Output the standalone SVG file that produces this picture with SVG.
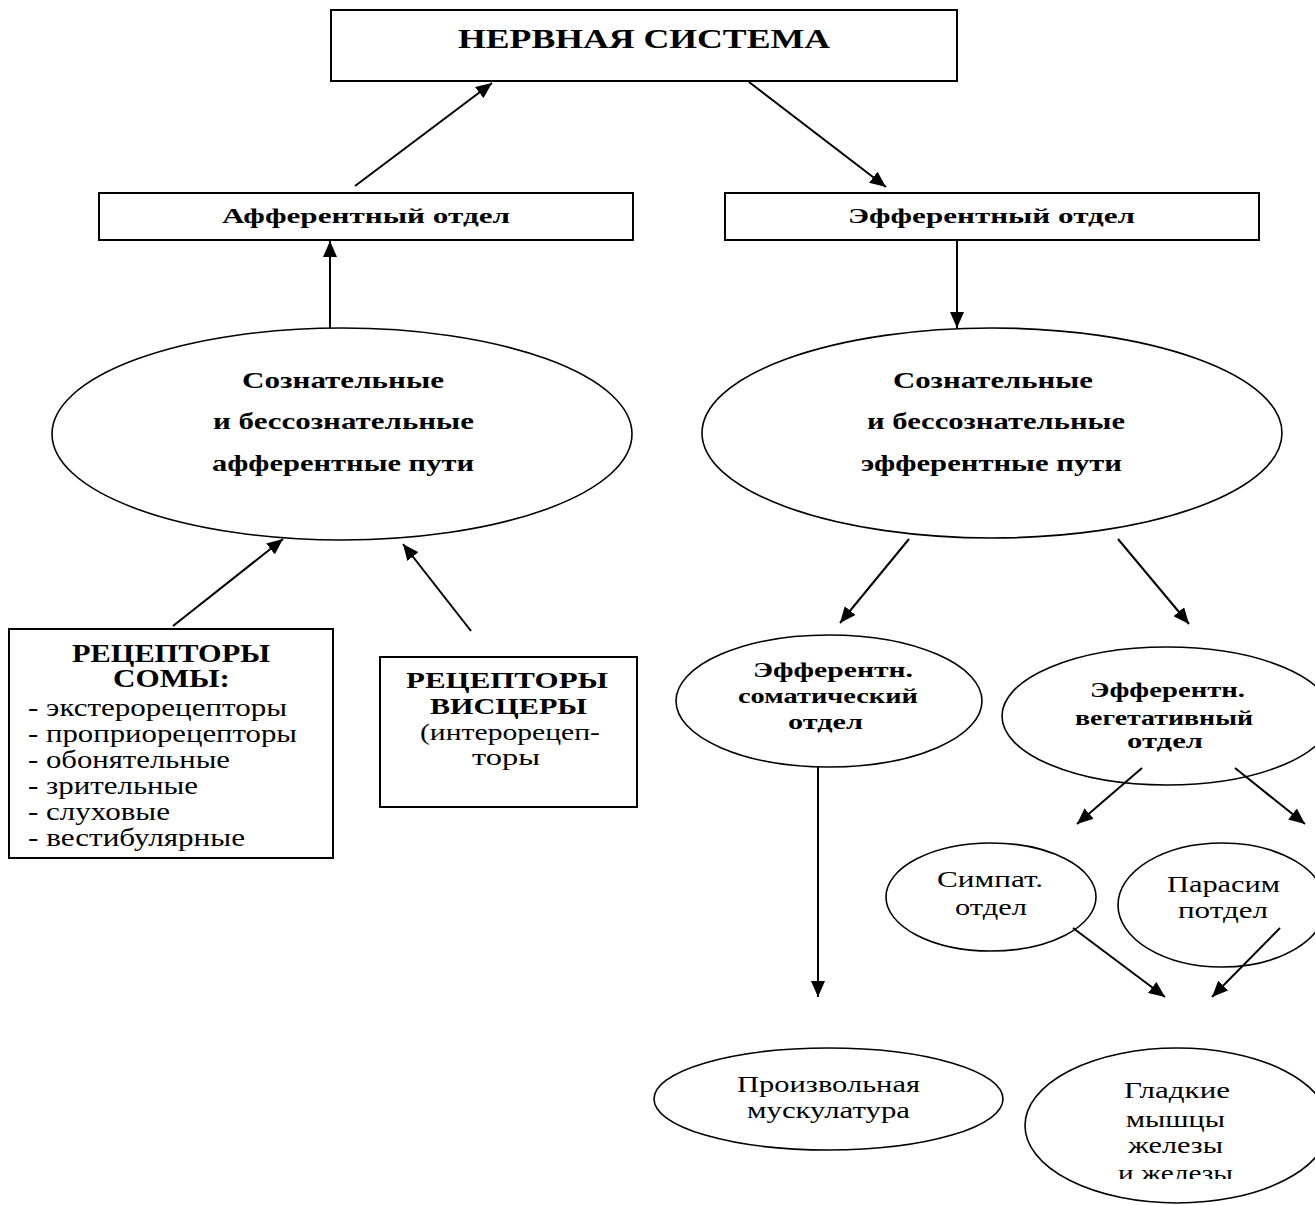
<svg xmlns="http://www.w3.org/2000/svg" width="1315" height="1205" viewBox="0 0 1315 1205">
<style>
.box{fill:#fff;stroke:#000;stroke-width:2}
.el{fill:#fff;stroke:#000;stroke-width:1.6}
.t{font-family:"Liberation Serif","Times New Roman",serif;fill:#000}
.b{font-weight:bold}
.con line{stroke:#000;stroke-width:2}
</style>
<defs>
<marker id="ah" markerUnits="userSpaceOnUse" markerWidth="17" markerHeight="14" refX="16" refY="7" orient="auto">
<path d="M0,0 L16,7 L0,14 z" fill="#000"/>
</marker>
<clipPath id="clipG"><rect x="0" y="0" width="1315" height="1179"/></clipPath>
</defs>
<rect width="1315" height="1205" fill="#fff"/>

<g id="n-nervous">
<rect class="box" x="331" y="10" width="626" height="71"/>
<text class="t b" x="458" y="48" font-size="28" textLength="372" lengthAdjust="spacingAndGlyphs">НЕРВНАЯ СИСТЕМА</text>
</g>
<g id="n-afferent">
<rect class="box" x="99" y="193" width="534" height="47"/>
<text class="t b" x="222" y="223" font-size="20" textLength="288" lengthAdjust="spacingAndGlyphs">Афферентный отдел</text>
</g>
<g id="n-efferent">
<rect class="box" x="725" y="193" width="534" height="47"/>
<text class="t b" x="848" y="223" font-size="20" textLength="287" lengthAdjust="spacingAndGlyphs">Эфферентный отдел</text>
</g>
<g id="n-aff-paths">
<ellipse class="el" cx="342" cy="434" rx="290" ry="106"/>
<text class="t b" x="242" y="388" font-size="23" textLength="202" lengthAdjust="spacingAndGlyphs">Сознательные</text>
<text class="t b" x="213" y="429" font-size="23" textLength="261" lengthAdjust="spacingAndGlyphs">и бессознательные</text>
<text class="t b" x="212" y="471" font-size="23" textLength="262" lengthAdjust="spacingAndGlyphs">афферентные пути</text>
</g>
<g id="n-eff-paths">
<ellipse class="el" cx="992" cy="433" rx="290" ry="105"/>
<text class="t b" x="893" y="388" font-size="23" textLength="200" lengthAdjust="spacingAndGlyphs">Сознательные</text>
<text class="t b" x="867" y="429" font-size="23" textLength="258" lengthAdjust="spacingAndGlyphs">и бессознательные</text>
<text class="t b" x="861" y="471" font-size="23" textLength="261" lengthAdjust="spacingAndGlyphs">эфферентные пути</text>
</g>
<g id="n-soma-rec">
<rect class="box" x="9" y="629" width="324" height="229"/>
<text class="t b" x="72" y="662" font-size="25" textLength="198" lengthAdjust="spacingAndGlyphs">РЕЦЕПТОРЫ</text>
<text class="t b" x="113" y="687" font-size="25" textLength="117" lengthAdjust="spacingAndGlyphs">СОМЫ:</text>
<text class="t" x="28" y="716" font-size="25" textLength="259" lengthAdjust="spacingAndGlyphs">- экстерорецепторы</text>
<text class="t" x="28" y="742" font-size="25" textLength="269" lengthAdjust="spacingAndGlyphs">- проприорецепторы</text>
<text class="t" x="28" y="768" font-size="25" textLength="202" lengthAdjust="spacingAndGlyphs">- обонятельные</text>
<text class="t" x="28" y="794" font-size="25" textLength="170" lengthAdjust="spacingAndGlyphs">- зрительные</text>
<text class="t" x="28" y="820" font-size="25" textLength="142" lengthAdjust="spacingAndGlyphs">- слуховые</text>
<text class="t" x="28" y="846" font-size="25" textLength="217" lengthAdjust="spacingAndGlyphs">- вестибулярные</text>
</g>
<g id="n-visc-rec">
<rect class="box" x="380" y="657" width="257" height="150"/>
<text class="t b" x="406" y="688" font-size="24" textLength="202" lengthAdjust="spacingAndGlyphs">РЕЦЕПТОРЫ</text>
<text class="t b" x="430" y="714" font-size="24" textLength="157" lengthAdjust="spacingAndGlyphs">ВИСЦЕРЫ</text>
<text class="t" x="420" y="740" font-size="24" textLength="180" lengthAdjust="spacingAndGlyphs">(интерорецеп-</text>
<text class="t" x="472" y="765" font-size="24" textLength="68" lengthAdjust="spacingAndGlyphs">торы</text>
</g>
<g id="n-somatic">
<ellipse class="el" cx="829" cy="701" rx="153" ry="66"/>
<text class="t b" x="753" y="677" font-size="20" textLength="160" lengthAdjust="spacingAndGlyphs">Эфферентн.</text>
<text class="t b" x="738" y="703" font-size="20" textLength="180" lengthAdjust="spacingAndGlyphs">соматический</text>
<text class="t b" x="788" y="729" font-size="20" textLength="75" lengthAdjust="spacingAndGlyphs">отдел</text>
</g>
<g id="n-vegetative">
<ellipse class="el" cx="1167" cy="716" rx="165" ry="69"/>
<text class="t b" x="1090" y="697" font-size="20" textLength="155" lengthAdjust="spacingAndGlyphs">Эфферентн.</text>
<text class="t b" x="1075" y="725" font-size="20" textLength="178" lengthAdjust="spacingAndGlyphs">вегетативный</text>
<text class="t b" x="1127" y="748" font-size="20" textLength="76" lengthAdjust="spacingAndGlyphs">отдел</text>
</g>
<g id="n-symp">
<ellipse class="el" cx="991" cy="897" rx="105" ry="54"/>
<text class="t" x="937" y="887" font-size="23" textLength="106" lengthAdjust="spacingAndGlyphs">Симпат.</text>
<text class="t" x="955" y="915" font-size="23" textLength="72" lengthAdjust="spacingAndGlyphs">отдел</text>
</g>
<g id="n-parasym">
<ellipse class="el" cx="1222" cy="905" rx="104" ry="62"/>
<text class="t" x="1167" y="892" font-size="23" textLength="113" lengthAdjust="spacingAndGlyphs">Парасим</text>
<text class="t" x="1178" y="918" font-size="23" textLength="90" lengthAdjust="spacingAndGlyphs">потдел</text>
</g>
<g id="n-voluntary">
<ellipse class="el" cx="828.5" cy="1099" rx="174.5" ry="51"/>
<text class="t" x="737" y="1092" font-size="23" textLength="183" lengthAdjust="spacingAndGlyphs">Произвольная</text>
<text class="t" x="747" y="1118" font-size="23" textLength="163" lengthAdjust="spacingAndGlyphs">мускулатура</text>
</g>
<g id="n-smooth">
<ellipse class="el" cx="1177" cy="1125.5" rx="152" ry="77.5"/>
<text class="t" x="1124" y="1098" font-size="23" textLength="106" lengthAdjust="spacingAndGlyphs">Гладкие</text>
<text class="t" x="1126" y="1127" font-size="23" textLength="99" lengthAdjust="spacingAndGlyphs">мышцы</text>
<text class="t" x="1128" y="1153" font-size="23" textLength="95" lengthAdjust="spacingAndGlyphs">железы</text>
<text class="t" x="1118" y="1181" font-size="23" textLength="115" lengthAdjust="spacingAndGlyphs" clip-path="url(#clipG)">и железы</text>
</g>

<g id="connectors" class="con">
<line x1="355" y1="186" x2="492" y2="83" marker-end="url(#ah)"/>
<line x1="749" y1="82" x2="886" y2="187" marker-end="url(#ah)"/>
<line x1="330" y1="328" x2="330" y2="241" marker-end="url(#ah)"/>
<line x1="957" y1="241" x2="957" y2="328" marker-end="url(#ah)"/>
<line x1="173" y1="626" x2="283" y2="539" marker-end="url(#ah)"/>
<line x1="471" y1="631" x2="403" y2="544" marker-end="url(#ah)"/>
<line x1="909" y1="539" x2="840" y2="623" marker-end="url(#ah)"/>
<line x1="1118" y1="539" x2="1189" y2="624" marker-end="url(#ah)"/>
<line x1="818" y1="767" x2="818" y2="997" marker-end="url(#ah)"/>
<line x1="1142" y1="768" x2="1077" y2="824" marker-end="url(#ah)"/>
<line x1="1235" y1="768" x2="1305" y2="824" marker-end="url(#ah)"/>
<line x1="1073" y1="928" x2="1165" y2="997" marker-end="url(#ah)"/>
<line x1="1280" y1="928" x2="1212" y2="997" marker-end="url(#ah)"/>
</g>
</svg>
